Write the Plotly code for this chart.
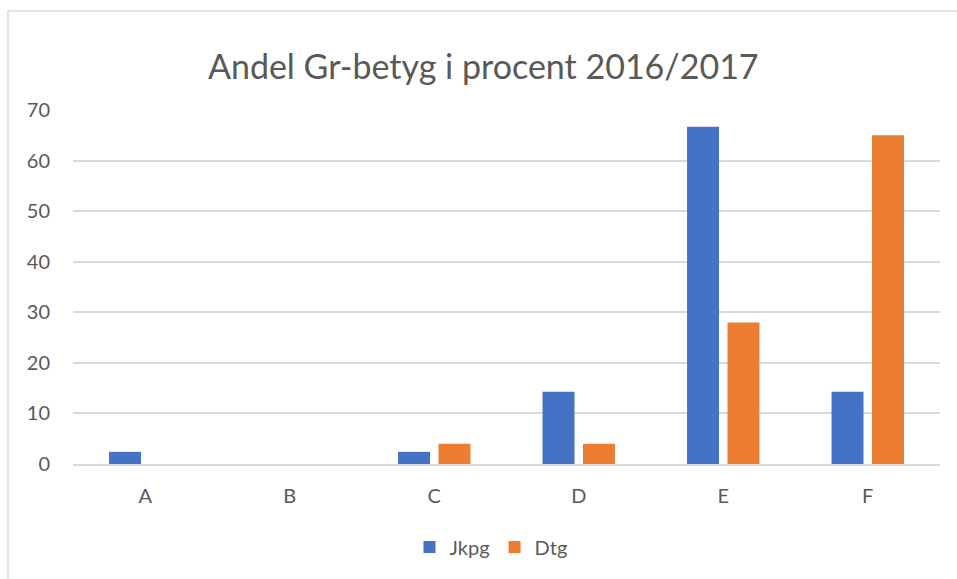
import plotly.graph_objects as go

categories = ["A", "B", "C", "D", "E", "F"]
jkpg = [2.4, 0, 2.4, 14.3, 66.7, 14.3]
dtg = [0, 0, 4, 4, 28, 65]
y_ticks = [0, 10, 20, 30, 40, 50, 60, 70]

FONT = "Lato"
TXT = "#595959"
GRID = "#d9d9d9"

W, H = 957, 579
L, R, T, B = 73, 17, 110, 115
pw = W - L - R
ph = H - T - B

fig = go.Figure()
fig.add_trace(go.Bar(name="Jkpg", x=categories, y=jkpg, marker=dict(color="#4472c4", line=dict(width=0))))
fig.add_trace(go.Bar(name="Dtg", x=categories, y=dtg, marker=dict(color="#ed7d31", line=dict(width=0))))

fig.update_layout(
    width=W, height=H,
    margin=dict(l=L, r=R, t=T, b=B, autoexpand=False),
    paper_bgcolor="white", plot_bgcolor="white",
    barmode="group", bargap=0.44, bargroupgap=0.21,
    font=dict(family=FONT, color=TXT, size=20),
    title=dict(text="Andel Gr-betyg i procent 2016/2017", x=0.505, xanchor="center",
               y=1 - 67 / H, yanchor="middle", yref="container",
               font=dict(family=FONT, size=34, color=TXT)),
    legend=dict(orientation="h", x=(491 - L) / pw, xanchor="center",
                y=(ph - (547 - T)) / ph, yanchor="middle",
                font=dict(family=FONT, size=20, color=TXT), itemwidth=30,
                bgcolor="rgba(0,0,0,0)"),
    xaxis=dict(showgrid=False, showline=True, linecolor=GRID, linewidth=1.5,
               ticks="", tickfont=dict(family=FONT, size=20, color=TXT),
               ticklabelstandoff=13, zeroline=False),
    yaxis=dict(range=[0, 70], tickvals=y_ticks, showgrid=True, gridcolor=GRID, gridwidth=1.5,
               zeroline=False, showline=False, ticks="",
               tickfont=dict(family=FONT, size=20, color=TXT), ticklabelstandoff=22),
    shapes=[dict(type="rect", xref="paper", yref="paper",
                 x0=(8 - L) / pw, x1=1.2, y0=(ph - (11 - T)) / ph, y1=-0.6,
                 line=dict(color=GRID, width=1.5), fillcolor="rgba(0,0,0,0)", layer="below")],
)

fig.write_html("out.html", config={"displayModeBar": False},
               post_script="document.body.style.margin='0';document.body.style.overflow='hidden';")
